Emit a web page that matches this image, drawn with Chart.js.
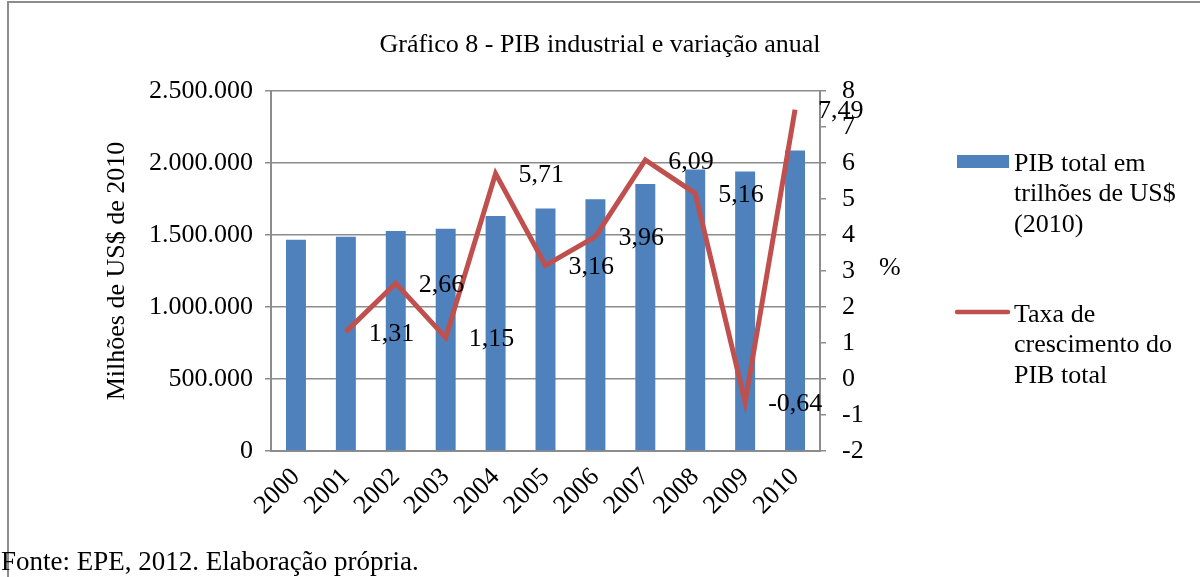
<!DOCTYPE html>
<html>
<head>
<meta charset="utf-8">
<script src="https://cdn.jsdelivr.net/npm/chart.js@4"></script>
<style>
  body { margin: 0; background: #fff; }
  #wrap { position: relative; width: 1200px; height: 577px; overflow: hidden; }
  #box { position: absolute; left: 7px; top: 1px; width: 1300px; height: 700px; border: 2px solid #8c8c8c; }
  #fonte { position: absolute; left: 1px; top: 546px; font: 27px "Liberation Serif", serif; color: #000; }
  canvas { position: absolute; left: 0; top: 0; }
</style>
</head>
<body>
<div id="wrap">
  <div id="box"></div>
  <canvas id="myChart" width="1200" height="577"></canvas>
  <div id="fonte">Fonte: EPE, 2012. Elaboração própria.</div>
</div>
<script>
var ctx = document.getElementById("myChart").getContext("2d");

// anos e valores
const anos = ["2000", "2001", "2002", "2003", "2004", "2005", "2006", "2007", "2008", "2009", "2010"];
const pibTotal = [1467000, 1488000, 1528000, 1544000, 1632000, 1685000, 1750000, 1856000, 1956000, 1942000, 2088000];
const taxaCrescimento = [null, 1.31, 2.66, 1.15, 5.71, 3.16, 3.96, 6.09, 5.16, -0.64, 7.49];
const legendaBarra = ["PIB total em", "trilhões de US$", "(2010)"];
const legendaLinha = ["Taxa de", "crescimento do", "PIB total"];

const fonte = "Liberation Serif";
const tam = 26;
const azul = "#4f81bd";
const vermelho = "#c0504d";
const cinza = "#8c8c8c";

function milhar(v) {
  return String(v).replace(/\B(?=(\d{3})+(?!\d))/g, ".");
}

// rótulos dos pontos, títulos dos eixos e legenda
const extras = {
  id: "extras",
  afterDatasetsDraw(chart) {
    const c = chart.ctx;
    const meta = chart.getDatasetMeta(1);
    c.save();
    c.fillStyle = "#000";
    c.font = tam + "px '" + fonte + "'";
    c.textAlign = "left";
    c.textBaseline = "middle";
    meta.data.forEach((pt, i) => {
      const v = taxaCrescimento[i];
      if (v === null) return;
      c.fillText(v.toFixed(2).replace(".", ","), pt.x + 23, pt.y + 2);
    });

    // título eixo esquerdo
    c.save();
    c.translate(117, 271);
    c.rotate(-Math.PI / 2);
    c.textAlign = "center";
    c.fillText("Milhões de US$ de 2010", 0, 0);
    c.restore();

    // título eixo direito
    c.textAlign = "left";
    c.fillText("%", 879, 268);

    // legenda
    c.fillStyle = azul;
    c.fillRect(957, 155, 52, 13);
    c.strokeStyle = vermelho;
    c.lineWidth = 4.5;
    c.lineCap = "round";
    c.beginPath();
    c.moveTo(957, 312);
    c.lineTo(1008, 312);
    c.stroke();
    c.fillStyle = "#000";
    legendaBarra.forEach((t, i) => c.fillText(t, 1014, 164 + i * 30.5));
    legendaLinha.forEach((t, i) => c.fillText(t, 1014, 315 + i * 30.5));
    c.restore();
  }
};

let myChart = new Chart(ctx, {
  type: "bar",
  data: {
    labels: anos,
    datasets: [
      {
        type: "bar",
        label: legendaBarra.join(" "),
        data: pibTotal,
        backgroundColor: azul,
        yAxisID: "y",
        categoryPercentage: 1,
        barPercentage: 0.4,
        order: 2
      },
      {
        type: "line",
        label: legendaLinha.join(" "),
        data: taxaCrescimento,
        borderColor: vermelho,
        borderWidth: 5,
        pointRadius: 0,
        tension: 0,
        yAxisID: "y1",
        order: 1
      }
    ]
  },
  options: {
    responsive: false,
    animation: false,
    layout: { padding: 0 },
    plugins: {
      legend: { display: false },
      tooltip: { enabled: false },
      title: {
        display: true,
        text: "Gráfico 8 - PIB industrial e variação anual",
        color: "#000",
        font: { family: fonte, size: tam, weight: "normal" },
        padding: { top: 30, bottom: 30 }
      }
    },
    scales: {
      x: {
        grid: { display: false },
        border: { color: cinza, width: 2 },
        ticks: {
          color: "#000",
          font: { family: fonte, size: tam },
          minRotation: 45,
          maxRotation: 45,
          padding: 3
        },
        afterFit: s => { s.height = 126; }
      },
      y: {
        position: "left",
        min: 0,
        max: 2500000,
        ticks: {
          stepSize: 500000,
          color: "#000",
          font: { family: fonte, size: tam },
          padding: 12,
          callback: v => milhar(v)
        },
        grid: { color: cinza, lineWidth: 1.5, tickLength: 6 },
        border: { color: cinza, width: 2 },
        afterFit: s => { s.width = 271; }
      },
      y1: {
        position: "right",
        min: -2,
        max: 8,
        ticks: {
          stepSize: 1,
          color: "#000",
          font: { family: fonte, size: tam },
          padding: 16
        },
        grid: { drawOnChartArea: false, color: cinza, lineWidth: 1.5, tickLength: 6 },
        border: { color: cinza, width: 2 },
        afterFit: s => { s.width = 380; }
      }
    }
  },
  plugins: [extras]
});
</script>
</body>
</html>
